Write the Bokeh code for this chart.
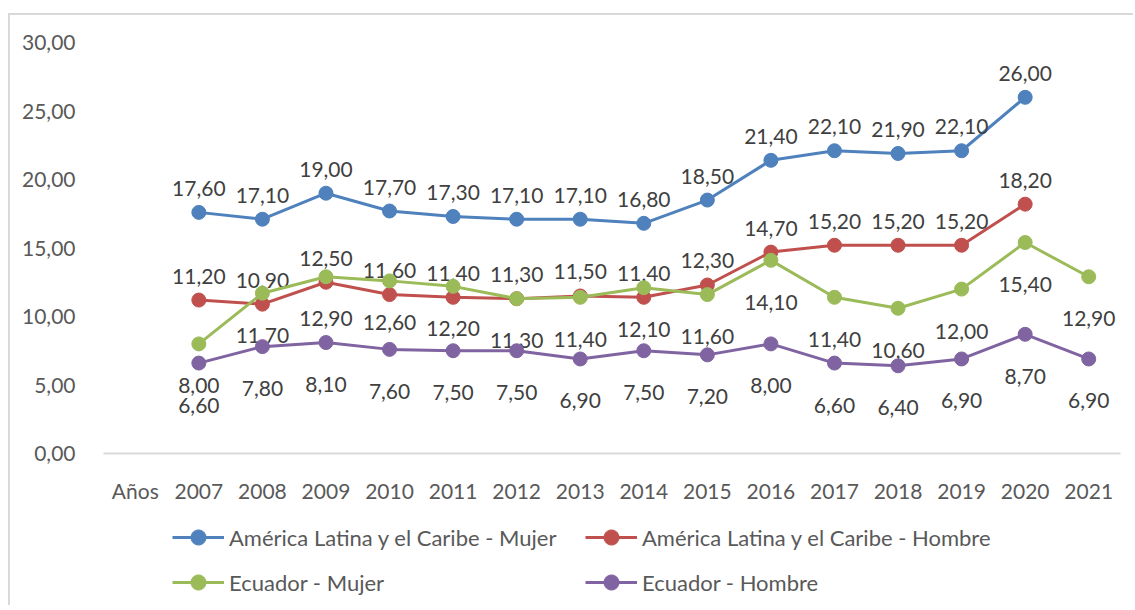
from bokeh.plotting import figure
from bokeh.layouts import column
from bokeh.models import Range1d, FixedTicker, Legend, LegendItem, ColumnDataSource
from bokeh.core.properties import value
from bokeh.embed import file_html
from bokeh.resources import INLINE

categories = ["Años", "2007", "2008", "2009", "2010", "2011", "2012", "2013",
              "2014", "2015", "2016", "2017", "2018", "2019", "2020", "2021"]
years_alc = ["2007", "2008", "2009", "2010", "2011", "2012", "2013",
             "2014", "2015", "2016", "2017", "2018", "2019", "2020"]
years_ec = years_alc + ["2021"]

alc_mujer = [17.6, 17.1, 19.0, 17.7, 17.3, 17.1, 17.1, 16.8, 18.5, 21.4, 22.1, 21.9, 22.1, 26.0]
alc_hombre = [11.2, 10.9, 12.5, 11.6, 11.4, 11.3, 11.5, 11.4, 12.3, 14.7, 15.2, 15.2, 15.2, 18.2]
ec_mujer = [8.0, 11.7, 12.9, 12.6, 12.2, 11.3, 11.4, 12.1, 11.6, 14.1, 11.4, 10.6, 12.0, 15.4, 12.9]
ec_hombre = [6.6, 7.8, 8.1, 7.6, 7.5, 7.5, 6.9, 7.5, 7.2, 8.0, 6.6, 6.4, 6.9, 8.7, 6.9]

y_ticks = [0, 5, 10, 15, 20, 25, 30]

series = [
    ("América Latina y el Caribe - Mujer", years_alc, alc_mujer, "#4F81BD", "above"),
    ("América Latina y el Caribe - Hombre", years_alc, alc_hombre, "#C0504D", "above"),
    ("Ecuador - Mujer", years_ec, ec_mujer, "#9BBB59", "below"),
    ("Ecuador - Hombre", years_ec, ec_hombre, "#8064A2", "below"),
]

FONT = "Lato"
FS = "21px"

def fmt(v):
    return f"{v:.2f}".replace(".", ",")

W = 1123
p = figure(x_range=categories, y_range=Range1d(0, 30), width=W, height=490,
           output_backend="svg", toolbar_location=None,
           min_border_left=93, min_border_right=13, min_border_top=27, min_border_bottom=50)
p.outline_line_color = None
p.xgrid.grid_line_color = None
p.ygrid.grid_line_color = None
p.background_fill_color = "white"
p.border_fill_color = "white"

p.yaxis.ticker = FixedTicker(ticks=y_ticks)
p.yaxis.major_label_overrides = {t: fmt(t) for t in y_ticks}
p.yaxis.axis_line_color = None
p.yaxis.major_tick_line_color = None
p.yaxis.minor_tick_line_color = None
p.yaxis.major_label_standoff = 22
p.yaxis.major_label_text_font = FONT
p.yaxis.major_label_text_font_size = FS
p.yaxis.major_label_text_color = "#595959"

p.xaxis.axis_line_color = "#d9d9d9"
p.xaxis.axis_line_width = 2
p.xaxis.major_tick_line_color = None
p.xaxis.minor_tick_line_color = None
p.xaxis.major_label_standoff = 18
p.xaxis.major_label_text_font = FONT
p.xaxis.major_label_text_font_size = FS
p.xaxis.major_label_text_color = "#595959"

# legend strip below the chart (its frame is aligned with the chart frame)
q = figure(x_range=Range1d(0, 1), y_range=Range1d(0, 1), width=W, height=100,
           output_backend="svg", toolbar_location=None,
           min_border_left=0, min_border_right=0, min_border_top=0, min_border_bottom=0)
q.axis.visible = False
q.grid.visible = False
q.outline_line_color = None
q.border_fill_color = "white"
q.background_fill_color = "white"

legend_pos = [(69, 49), (482, 49), (69, 4), (482, 4)]
nan = float("nan")

for (name, xs, ys, color, where), loc in zip(series, legend_pos):
    src = ColumnDataSource(dict(x=xs, y=ys, t=[fmt(v) for v in ys]))
    p.line("x", "y", source=src, line_color=color, line_width=3)
    p.scatter("x", "y", source=src, marker="circle", size=14,
              fill_color=color, line_color=color)
    p.text("x", "y", text="t", source=src, text_align="center",
           text_baseline="alphabetic", y_offset=(-24 if where == "above" else 42),
           text_font=value(FONT), text_font_size=FS, text_color="#404040")
    dummy = ColumnDataSource(dict(x=[nan], y=[nan]))
    l_line = q.line("x", "y", source=dummy, line_color=color, line_width=3)
    l_pt = q.scatter("x", "y", source=dummy, marker="circle", size=14,
                     fill_color=color, line_color=color)
    lg = Legend(items=[LegendItem(label=name, renderers=[l_line, l_pt])],
                location=loc, padding=0, margin=0, border_line_color=None,
                background_fill_alpha=0, glyph_width=52, glyph_height=38,
                label_height=38, label_standoff=5,
                label_text_font=FONT, label_text_font_size="22px",
                label_text_color="#595959")
    q.add_layout(lg, "center")

layout = column(p, q, spacing=0, margin=(13, 0, 0, 8))
layout.styles = {"border-left": "2px solid #d9d9d9", "border-top": "2px solid #d9d9d9"}

open("out.html", "w").write(file_html(layout, INLINE))
